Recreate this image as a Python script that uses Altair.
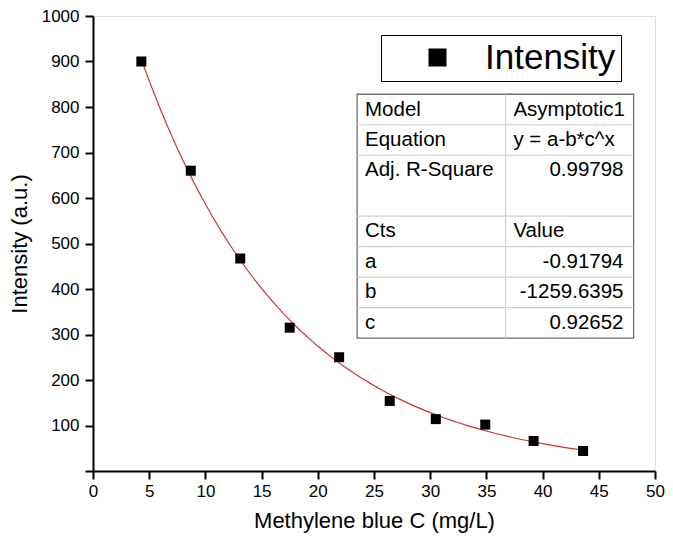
import altair as alt
import pandas as pd

# ---- data ----
conc = [4.3, 8.7, 13.1, 17.5, 21.9, 26.4, 30.5, 34.9, 39.2, 43.6]
intensity = [900, 660, 467, 315, 250, 154, 114, 102, 66, 44]
series_name = "Intensity"

table_left = ["Model", "Equation", "Adj. R-Square", "", "Cts", "a", "b", "c"]
table_right = ["Asymptotic1", "y = a-b*c^x", "0.99798", "", "Value",
               "-0.91794", "-1259.6395", "0.92652"]
right_is_number = [False, False, True, False, False, True, True, True]

x_ticks = list(range(0, 51, 5))
y_ticks = list(range(0, 1001, 100))

FONT = "Liberation Sans"

df = pd.DataFrame({"conc": conc, "intensity": intensity, "series": series_name})

x_scale = alt.Scale(domain=[0, 50], nice=False, zero=False)
y_scale = alt.Scale(domain=[0, 1000], nice=False)

x_axis = alt.Axis(values=x_ticks, title="Methylene blue C (mg/L)", grid=False,
                  tickSize=8, tickWidth=2, domainWidth=2, domainColor="black",
                  tickColor="black", labelColor="black", labelFontSize=17,
                  labelFont=FONT, labelPadding=4, titleFont=FONT, titleFontSize=22,
                  titleFontWeight="normal", titleColor="black", titlePadding=11,
                  labelFlush=False, labelOverlap=False, format="d")
y_axis = alt.Axis(values=y_ticks, title="Intensity (a.u.)", grid=False,
                  tickSize=8, tickWidth=2, domainWidth=2, domainColor="black",
                  tickColor="black", labelColor="black", labelFontSize=17,
                  labelFont=FONT, labelPadding=6, titleFont=FONT, titleFontSize=22,
                  titleFontWeight="normal", titleColor="black", titlePadding=10,
                  labelExpr="datum.value == 0 ? '' : datum.label", format="d",
                  labelFlush=False, labelOverlap=False)

base = alt.Chart(df)

fit = base.transform_regression(
    "conc", "intensity", method="exp", extent=[conc[0], conc[-1]]
).mark_line(color="#cc3333", strokeWidth=1.2).encode(
    x=alt.X("conc:Q", scale=x_scale, axis=x_axis),
    y=alt.Y("intensity:Q", scale=y_scale, axis=y_axis),
)

points = base.mark_square(size=100, opacity=1, filled=True).encode(
    x=alt.X("conc:Q", scale=x_scale, axis=x_axis),
    y=alt.Y("intensity:Q", scale=y_scale, axis=y_axis),
    color=alt.Color("series:N", scale=alt.Scale(range=["black"]),
                    legend=alt.Legend(title=None, orient="none", legendX=288, legendY=19,
                                      symbolType="square", symbolSize=324,
                                      symbolStrokeWidth=0, symbolOffset=34,
                                      labelOffset=30, labelFontSize=35, labelFont=FONT,
                                      labelColor="black", padding=5,
                                      strokeColor="black", fillColor="white",
                                      labelLimit=400)),
)

# ---- parameter table (in data coordinates of the plot) ----
tx0, txm, tx1 = 23.5, 36.7, 48.1
ty_top, row_h = 828.0, 67.0
n_rows = len(table_left)

rows = []
for k in range(n_rows):
    yc = ty_top - row_h * (k + 0.5)
    rows.append({"x": 24.2, "y": yc, "t": table_left[k], "align": "left"})
    if right_is_number[k]:
        rows.append({"x": 47.2, "y": yc, "t": table_right[k], "align": "right"})
    else:
        rows.append({"x": 37.4, "y": yc, "t": table_right[k], "align": "left"})
txt_df = pd.DataFrame(rows)

table_box = alt.Chart(pd.DataFrame({"x": [tx0], "x2": [tx1],
                                    "y": [ty_top], "y2": [ty_top - row_h * n_rows]})
                      ).mark_rect(fill="white", stroke="#6e6e6e", strokeWidth=1.3).encode(
    x=alt.X("x:Q", scale=x_scale), x2="x2:Q",
    y=alt.Y("y:Q", scale=y_scale), y2="y2:Q")

h_lines = pd.DataFrame({"y": [ty_top - row_h * k for k in [1, 2, 4, 5, 6, 7]],
                        "x": tx0, "x2": tx1})
h_rules = alt.Chart(h_lines).mark_rule(color="#cfcfcf", strokeWidth=1.2).encode(
    x=alt.X("x:Q", scale=x_scale), x2="x2:Q", y=alt.Y("y:Q", scale=y_scale))

v_rule = alt.Chart(pd.DataFrame({"x": [txm], "y": [ty_top], "y2": [ty_top - row_h * n_rows]})
                   ).mark_rule(color="#cfcfcf", strokeWidth=1.2).encode(
    x=alt.X("x:Q", scale=x_scale), y=alt.Y("y:Q", scale=y_scale), y2="y2:Q")

txt_left = alt.Chart(txt_df[txt_df["align"] == "left"]).mark_text(
    align="left", baseline="middle", font=FONT, fontSize=20.5, color="black").encode(
    x=alt.X("x:Q", scale=x_scale), y=alt.Y("y:Q", scale=y_scale), text="t:N")
txt_right = alt.Chart(txt_df[txt_df["align"] == "right"]).mark_text(
    align="right", baseline="middle", font=FONT, fontSize=20.5, color="black").encode(
    x=alt.X("x:Q", scale=x_scale), y=alt.Y("y:Q", scale=y_scale), text="t:N")

chart = alt.layer(
    table_box, h_rules, v_rule, txt_left, txt_right, fit, points
).properties(
    width=562, height=455,
    autosize=alt.AutoSizeParams(type="none"),
    padding={"left": 85, "top": 8, "right": 10, "bottom": 66},
).configure_view(
    stroke="black", strokeWidth=2
).configure(background="white")

chart.save("out.html", embed_options={"renderer": "svg", "actions": False})
